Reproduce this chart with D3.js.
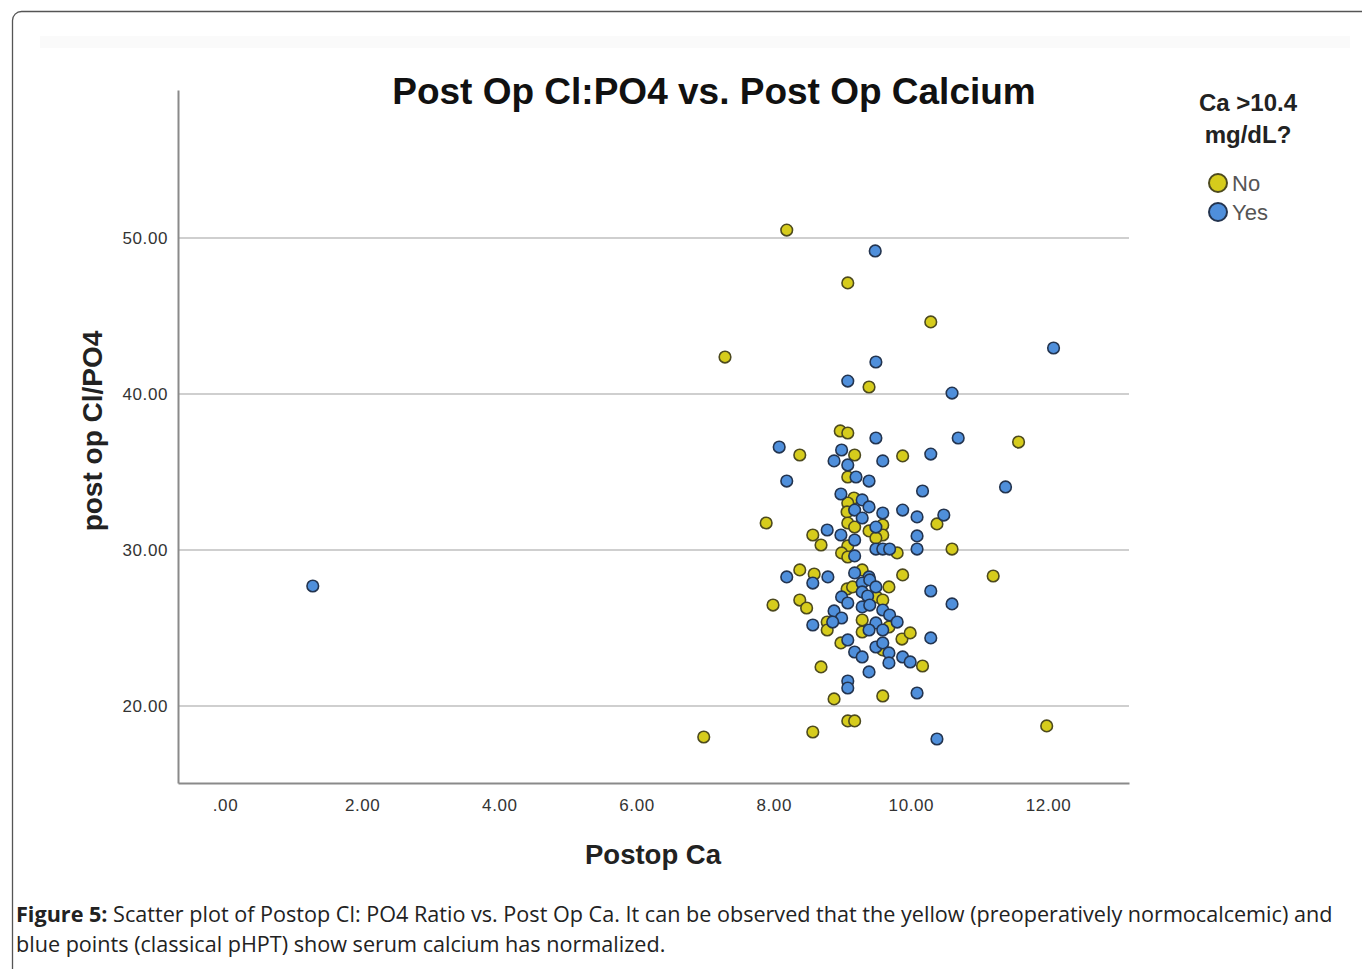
<!DOCTYPE html>
<html>
<head>
<meta charset="utf-8">
<script src="https://cdn.jsdelivr.net/npm/d3@7"></script>
<style>
  body { margin: 0; background: #fff; }
  svg { display: block; }
</style>
</head>
<body>
<div id="chart"></div>
<script>
// Postop Ca (x) vs post op Cl/PO4 (y), grouped by "Ca >10.4 mg/dL?"
const noPoints = [
  [8.19, 50.51], [9.08, 47.12], [10.29, 44.62], [7.29, 42.37], [9.39, 40.45], [11.57, 36.92],
  [8.97, 37.63], [9.08, 37.50], [8.38, 36.09], [9.18, 36.09], [9.88, 36.03],
  [9.08, 34.68], [9.17, 33.33], [9.08, 33.01], [9.07, 32.44], [9.08, 31.73], [9.18, 31.47],
  [9.59, 31.60], [9.39, 31.22], [7.89, 31.73], [10.38, 31.67],
  [8.57, 30.96], [9.59, 30.96], [9.49, 30.77], [8.69, 30.32], [9.08, 30.26], [9.80, 29.81],
  [8.99, 29.81], [9.08, 29.55], [10.60, 30.06],
  [8.38, 28.72], [8.59, 28.46], [9.29, 28.72], [9.88, 28.40], [11.20, 28.33],
  [9.07, 27.50], [9.15, 27.63], [9.68, 27.63], [9.50, 26.99], [9.59, 26.79], [7.99, 26.47],
  [8.38, 26.79], [8.48, 26.28],
  [8.78, 25.38], [8.78, 24.87], [9.29, 25.51], [9.68, 25.06], [9.29, 24.74], [8.98, 24.04],
  [9.87, 24.29], [9.99, 24.68], [9.59, 23.59],
  [10.17, 22.56], [8.69, 22.50], [8.88, 20.45], [9.59, 20.64], [9.08, 19.04], [9.18, 19.04],
  [6.98, 18.01], [8.57, 18.33], [11.98, 18.72]
];

const yesPoints = [
  [9.48, 49.17], [9.49, 42.05], [9.08, 40.83], [10.60, 40.06], [12.08, 42.95],
  [9.49, 37.18], [10.69, 37.18], [8.08, 36.60], [8.99, 36.41], [8.88, 35.71], [9.59, 35.71],
  [10.29, 36.15], [9.08, 35.45],
  [9.20, 34.68], [9.39, 34.42], [8.19, 34.42], [10.17, 33.78], [11.38, 34.04], [8.98, 33.59],
  [9.29, 33.21], [9.39, 32.76], [9.18, 32.56], [9.59, 32.37], [9.88, 32.56], [10.09, 32.12],
  [10.48, 32.24], [9.29, 32.05],
  [9.49, 31.47], [8.78, 31.28], [8.98, 30.96], [10.09, 30.90], [9.18, 30.64], [9.49, 30.06],
  [9.59, 30.06], [9.69, 30.06], [10.09, 30.06], [9.18, 29.62],
  [8.19, 28.27], [8.79, 28.27], [9.18, 28.53], [9.39, 28.27], [8.57, 27.88], [9.29, 27.88],
  [9.40, 28.08],
  [9.29, 27.31], [9.49, 27.63], [10.29, 27.37], [8.99, 26.99], [9.37, 27.05], [9.08, 26.60],
  [9.29, 26.35], [9.40, 26.47], [9.59, 26.15], [10.60, 26.54],
  [8.88, 26.09], [8.99, 25.64], [8.86, 25.38], [8.57, 25.19], [9.49, 25.32], [9.69, 25.83],
  [9.80, 25.38], [9.39, 24.87], [9.59, 24.87], [9.08, 24.23], [10.29, 24.36],
  [9.49, 23.78], [9.59, 24.04], [9.18, 23.46], [9.29, 23.14], [9.68, 23.40], [9.68, 22.76],
  [9.88, 23.14], [9.99, 22.82], [9.39, 22.18],
  [9.08, 21.60], [9.08, 21.15], [10.09, 20.83], [10.38, 17.88], [1.28, 27.69]
];

const xTicks = [0, 2, 4, 6, 8, 10, 12];
const yTicks = [20, 30, 40, 50];
const groups = ["No", "Yes"];
const groupColors = ["#d6cc1c", "#4f8fdb"];
const groupStrokes = ["#4d4a1e", "#23344f"];

const W = 1362, H = 969;

const svg = d3.select("#chart").append("svg")
  .attr("width", W)
  .attr("height", H);

// outer frame
svg.append("rect")
  .attr("x", 12.5).attr("y", 11.5)
  .attr("width", W).attr("height", H + 40)
  .attr("rx", 9)
  .attr("fill", "#fff")
  .attr("stroke", "#555").attr("stroke-width", 1.3);

svg.append("rect")
  .attr("x", 40).attr("y", 36)
  .attr("width", 1310).attr("height", 12)
  .attr("fill", "#fafafa");

const x = d3.scaleLinear().domain([-0.685, 13.18]).range([178, 1129]);
const y = d3.scaleLinear().domain([15.06, 59.49]).range([783, 90]);

// gridlines
svg.append("g").selectAll("line")
  .data(yTicks).enter().append("line")
  .attr("x1", 178).attr("x2", 1129)
  .attr("y1", d => y(d)).attr("y2", d => y(d))
  .attr("stroke", "#cfcfcf").attr("stroke-width", 2);

const xAxis = d3.axisBottom(x)
  .tickValues(xTicks)
  .tickSize(0).tickSizeOuter(0).tickPadding(16)
  .tickFormat(d => d === 0 ? ".00" : d.toFixed(2));

const yAxis = d3.axisLeft(y)
  .tickValues(yTicks)
  .tickSize(0).tickSizeOuter(0).tickPadding(10)
  .tickFormat(d => d.toFixed(2));

const gx = svg.append("g")
  .attr("transform", "translate(0,783)")
  .call(xAxis);
const gy = svg.append("g")
  .attr("transform", "translate(178,0)")
  .call(yAxis);

[gx, gy].forEach(g => {
  g.select(".domain").attr("stroke", "#8a8a8a").attr("stroke-width", 2);
  g.selectAll("text")
    .attr("fill", "#333")
    .style("font-family", "'Liberation Sans', Arial, sans-serif")
    .style("font-size", "17px")
    .style("letter-spacing", "0.6px");
});

// points
const pts = svg.append("g");
[noPoints, yesPoints].forEach((arr, gi) => {
  pts.append("g").selectAll("circle")
    .data(arr).enter().append("circle")
    .attr("cx", d => x(d[0]))
    .attr("cy", d => y(d[1]))
    .attr("r", 5.8)
    .attr("fill", groupColors[gi])
    .attr("stroke", groupStrokes[gi])
    .attr("stroke-width", 1.6);
});

// title
svg.append("text")
  .attr("x", 714).attr("y", 104)
  .attr("text-anchor", "middle")
  .style("font-family", "'Liberation Sans', Arial, sans-serif")
  .style("font-weight", "bold")
  .style("font-size", "37px")
  .attr("fill", "#111")
  .text("Post Op Cl:PO4 vs. Post Op Calcium");

// axis titles
svg.append("text")
  .attr("x", 653).attr("y", 864)
  .attr("text-anchor", "middle")
  .style("font-family", "'Liberation Sans', Arial, sans-serif")
  .style("font-weight", "bold")
  .style("font-size", "27.5px")
  .attr("fill", "#222")
  .text("Postop Ca");

svg.append("text")
  .attr("transform", "translate(102,431) rotate(-90)")
  .attr("text-anchor", "middle")
  .style("font-family", "'Liberation Sans', Arial, sans-serif")
  .style("font-weight", "bold")
  .style("font-size", "28px")
  .attr("fill", "#222")
  .text("post op Cl/PO4");

// legend
const lg = svg.append("g");
lg.selectAll("text.lt")
  .data(["Ca >10.4", "mg/dL?"]).enter().append("text")
  .attr("class", "lt")
  .attr("x", 1248).attr("y", (d, i) => 111 + i * 32)
  .attr("text-anchor", "middle")
  .style("font-family", "'Liberation Sans', Arial, sans-serif")
  .style("font-weight", "bold")
  .style("font-size", "24px")
  .attr("fill", "#222")
  .text(d => d);

const items = lg.selectAll("g.item")
  .data(groups).enter().append("g")
  .attr("class", "item")
  .attr("transform", (d, i) => "translate(1218," + (183 + i * 29) + ")");
items.append("circle")
  .attr("r", 9)
  .attr("fill", (d, i) => groupColors[i])
  .attr("stroke", (d, i) => groupStrokes[i])
  .attr("stroke-width", 2);
items.append("text")
  .attr("x", 14).attr("y", 8)
  .style("font-family", "'Liberation Sans', Arial, sans-serif")
  .style("font-size", "22px")
  .attr("fill", "#555")
  .text(d => d);

// caption
const cap = svg.append("g")
  .style("font-family", "'Open Sans', sans-serif")
  .style("font-size", "21.6px")
  .attr("fill", "#222");
const l1 = cap.append("text").attr("x", 16).attr("y", 922);
l1.append("tspan").style("font-weight", "bold").text("Figure 5:");
l1.append("tspan").text(" Scatter plot of Postop Cl: PO4 Ratio vs. Post Op Ca. It can be observed that the yellow (preoperatively normocalcemic) and");
cap.append("text").attr("x", 16).attr("y", 952)
  .text("blue points (classical pHPT) show serum calcium has normalized.");
</script>
</body>
</html>
